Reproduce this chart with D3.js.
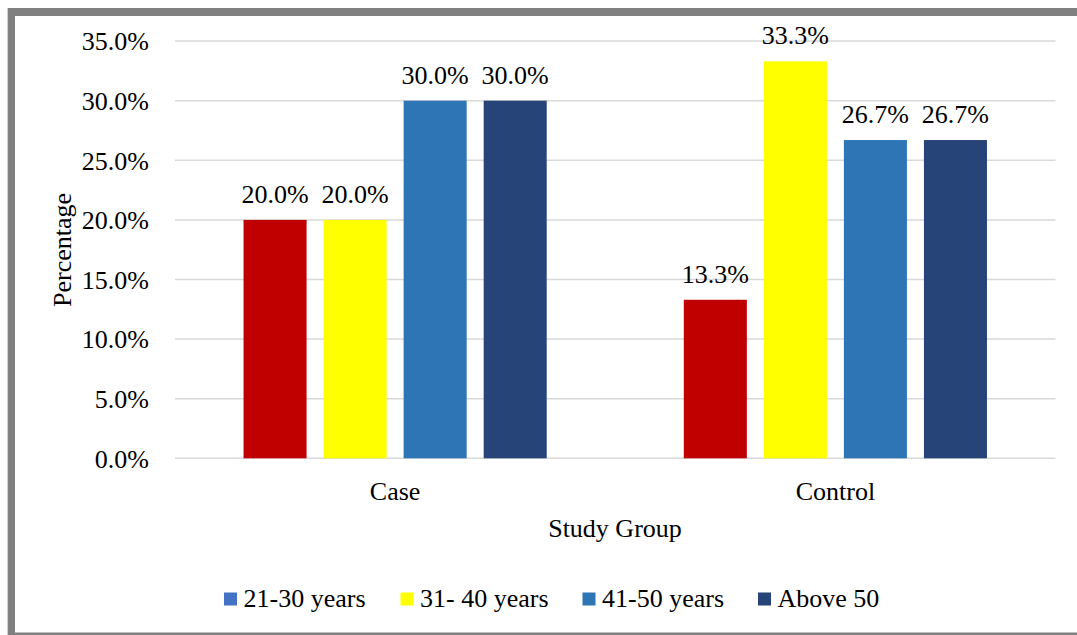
<!DOCTYPE html>
<html>
<head>
<meta charset="utf-8">
<script src="https://cdn.jsdelivr.net/npm/d3@7"></script>
<style>
  html, body { margin: 0; padding: 0; background: #fff; }
  svg { display: block; }
  svg text { font-family: "Liberation Serif", "Times New Roman", Times, Tinos, "DejaVu Serif", serif; fill: #000; }
</style>
</head>
<body>
<svg id="chart" width="1077" height="635"></svg>
<script>
// ---- data ----
const groups = ["Case", "Control"];
const seriesNames = ["21-30 years", "31- 40 years", "41-50 years", "Above 50"];
const caseValues = [20.0, 20.0, 30.0, 30.0];
const controlValues = [13.3, 33.3, 26.7, 26.7];
const yTicks = [0, 5, 10, 15, 20, 25, 30, 35];
const barColors = ["#C00000", "#FFFF00", "#2E75B6", "#264478"];
const legendColors = ["#4472C4", "#FFFF00", "#2E75B6", "#264478"];

const valuesByGroup = { "Case": caseValues, "Control": controlValues };

const FONT = '"Liberation Serif", "Times New Roman", Times, Tinos, "DejaVu Serif", serif';
const svg = d3.select("#chart");
const W = 1077, H = 635;
const FS = 26;

// frame
svg.append("rect").attr("x", 0).attr("y", 0).attr("width", W).attr("height", H).attr("fill", "#fff");
svg.append("rect").attr("x", 7).attr("y", 8).attr("width", 1).attr("height", H - 8).attr("fill", "#cfcfcf");
svg.append("rect").attr("x", 8).attr("y", 8).attr("width", 7).attr("height", H - 8).attr("fill", "#808080");
svg.append("rect").attr("x", 8).attr("y", 8).attr("width", W - 8).attr("height", 8).attr("fill", "#808080");
svg.append("rect").attr("x", 8).attr("y", 632.5).attr("width", W - 8).attr("height", 2.5).attr("fill", "#808080");

// scales
const plotLeft = 175, plotRight = 1055.5;
const y = d3.scaleLinear().domain([0, 35]).range([458.3, 41.1]);
const x0 = d3.scaleBand().domain(groups).range([plotLeft, plotRight]).padding(0);
const x1 = d3.scaleBand().domain(seriesNames).range([0, x0.bandwidth()])
  .paddingInner(0.2125).paddingOuter(0.85625);

// gridlines
const grid = svg.append("g");
grid.selectAll("line").data(yTicks).enter().append("line")
  .attr("x1", plotLeft).attr("x2", plotRight)
  .attr("y1", d => y(d)).attr("y2", d => y(d))
  .attr("stroke", "#D9D9D9").attr("stroke-width", 1.5);

// y axis labels
const yAxis = d3.axisLeft(y).tickValues(yTicks).tickSize(0).tickPadding(0)
  .tickFormat(d => d3.format(".1f")(d) + "%");
const yg = svg.append("g").attr("transform", "translate(149,0)").call(yAxis);
yg.attr("font-family", null).attr("font-size", null);
yg.select(".domain").remove();
yg.selectAll("text").attr("font-size", FS).attr("dy", "0.34em")
  .style("font-family", FONT).attr("fill", "#000");

// bars
const gGroups = svg.append("g").selectAll("g").data(groups).enter().append("g")
  .attr("transform", d => `translate(${x0(d)},0)`);
gGroups.selectAll("rect").data(g => valuesByGroup[g].map((v, i) => ({ name: seriesNames[i], v, i })))
  .enter().append("rect")
  .attr("x", d => x1(d.name))
  .attr("width", x1.bandwidth())
  .attr("y", d => y(d.v))
  .attr("height", d => y(0) - y(d.v))
  .attr("fill", d => barColors[d.i]);
gGroups.selectAll("text").data(g => valuesByGroup[g].map((v, i) => ({ name: seriesNames[i], v, i })))
  .enter().append("text")
  .attr("x", d => x1(d.name) + x1.bandwidth() / 2)
  .attr("y", d => y(d.v) - 17)
  .attr("text-anchor", "middle")
  .attr("font-size", FS)
  .style("font-family", FONT)
  .text(d => d3.format(".1f")(d.v) + "%");

// x axis labels
const xAxis = d3.axisBottom(x0).tickSize(0).tickPadding(0);
const xg = svg.append("g").attr("transform", "translate(0,500)").call(xAxis);
xg.attr("font-family", null).attr("font-size", null);
xg.select(".domain").remove();
xg.selectAll("text").attr("font-size", FS).attr("dy", 0)
  .style("font-family", FONT).attr("fill", "#000");

// axis titles
svg.append("text").attr("x", 615).attr("y", 537).attr("text-anchor", "middle")
  .attr("font-size", FS).style("font-family", FONT).text("Study Group");
svg.append("text").attr("transform", "translate(71,250) rotate(-90)")
  .attr("text-anchor", "middle").attr("font-size", FS).style("font-family", FONT).text("Percentage");

// legend
const legendX = [224, 400.5, 582.5, 758];
const lg = svg.append("g").selectAll("g").data(seriesNames).enter().append("g")
  .attr("transform", (d, i) => `translate(${legendX[i]},0)`);
lg.append("rect").attr("x", 0).attr("y", 592.5).attr("width", 13).attr("height", 13)
  .attr("fill", (d, i) => legendColors[i]);
lg.append("text").attr("x", 19.5).attr("y", 607).attr("font-size", FS)
  .style("font-family", FONT).text(d => d);
</script>
</body>
</html>
